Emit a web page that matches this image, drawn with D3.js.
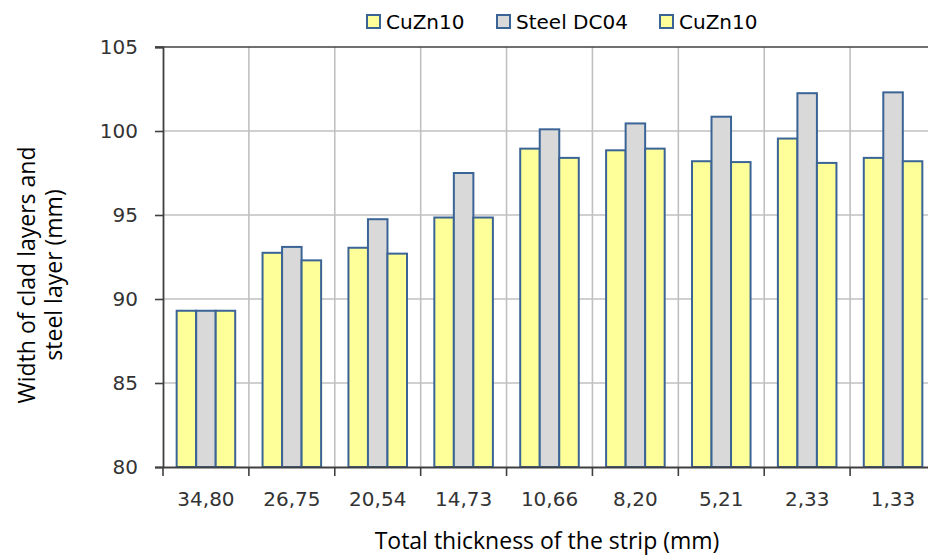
<!DOCTYPE html>
<html><head><meta charset="utf-8">
<script src="https://cdn.jsdelivr.net/npm/d3@7"></script>
<style>body{margin:0;background:#fff}svg{display:block}</style>
</head><body>
<svg id="c" width="928" height="556"></svg>
<script>
const categories = ["34,80","26,75","20,54","14,73","10,66","8,20","5,21","2,33","1,33"];
const seriesNames = ["CuZn10","Steel DC04","CuZn10"];
const cuzn10A = [89.3, 92.75, 93.05, 94.85, 98.95, 98.85, 98.2, 99.55, 98.4];
const steelDC04 = [89.3, 93.1, 94.75, 97.5, 100.1, 100.45, 100.85, 102.25, 102.3];
const cuzn10B = [89.3, 92.3, 92.7, 94.85, 98.4, 98.95, 98.15, 98.1, 98.2];
const yTicks = [80, 85, 90, 95, 100, 105];
const fills = ["#ffff99", "#d9d9d9", "#ffff99"];

(function () {
const series = [cuzn10A, steelDC04, cuzn10B];
const svg = d3.select("#c");
const L = 163, R = 936, T = 47, B = 467;

const x = d3.scaleBand().domain(categories).range([L, R]).paddingInner(0).paddingOuter(0);
const xi = d3.scaleBand().domain(d3.range(3)).range([0, x.bandwidth()]).paddingOuter(0.7).paddingInner(0);
const y = d3.scaleLinear().domain([80, 105]).range([B, T]);

svg.append("g").selectAll("line").data(yTicks.filter(t => t > 80 && t < 105)).join("line")
  .attr("x1", L).attr("x2", 928).attr("y1", d => y(d)).attr("y2", d => y(d))
  .attr("stroke", "#c0c0c0").attr("stroke-width", 1.6);
svg.append("g").selectAll("line").data(categories.slice(1)).join("line")
  .attr("x1", d => x(d)).attr("x2", d => x(d)).attr("y1", T).attr("y2", B)
  .attr("stroke", "#c0c0c0").attr("stroke-width", 1.6);
svg.append("line").attr("x1", L - 8).attr("x2", 928).attr("y1", y(105)).attr("y2", y(105))
  .attr("stroke", "#404040").attr("stroke-width", 1.6);

const g = svg.append("g");
series.forEach((vals, si) => {
  g.append("g").selectAll("rect").data(vals).join("rect")
    .attr("x", (d, i) => x(categories[i]) + xi(si))
    .attr("width", xi.bandwidth())
    .attr("y", d => y(d))
    .attr("height", d => y(80) - y(d))
    .attr("fill", fills[si]).attr("stroke", "#3b6496").attr("stroke-width", 2);
});

const yAxis = svg.append("g").attr("transform", `translate(${L},0)`)
  .call(d3.axisLeft(y).tickValues(yTicks).tickSize(8).tickPadding(17));
yAxis.select(".domain").attr("stroke", "#404040").attr("stroke-width", 1.8);
yAxis.selectAll(".tick line").attr("stroke", "#404040").attr("stroke-width", 1.6);
yAxis.selectAll("text").attr("font-family", "DejaVu Sans").attr("font-size", 20).attr("fill", "#333");

const xAxis = svg.append("g").attr("transform", `translate(0,${B})`)
  .call(d3.axisBottom(x).tickSize(0).tickPadding(25));
xAxis.select(".domain").attr("stroke", "#404040").attr("stroke-width", 1.8);
xAxis.selectAll("text").attr("font-family", "DejaVu Sans").attr("font-size", 20).attr("fill", "#333");
xAxis.append("g").selectAll("line").data(categories).join("line")
  .attr("x1", d => x(d)).attr("x2", d => x(d)).attr("y1", 0).attr("y2", 9)
  .attr("stroke", "#404040").attr("stroke-width", 1.6);

svg.append("text").attr("x", 547).attr("y", 549).attr("text-anchor", "middle")
  .attr("font-family", "Open Sans").attr("font-size", 23).attr("fill", "#000")
  .text("Total thickness of the strip (mm)");
const yt = svg.append("text").attr("transform", "translate(35,275) rotate(-90)")
  .attr("text-anchor", "middle").attr("font-family", "Open Sans").attr("font-size", 23).attr("fill", "#000");
yt.append("tspan").attr("x", 0).attr("dy", 0).text("Width of clad layers and");
yt.append("tspan").attr("x", 0).attr("dy", 27).text("steel layer (mm)");

const legX = [367, 497, 660];
const leg = svg.append("g");
seriesNames.forEach((n, i) => {
  leg.append("rect").attr("x", legX[i]).attr("y", 15).attr("width", 13).attr("height", 13)
    .attr("fill", fills[i]).attr("stroke", "#3b6496").attr("stroke-width", 2);
  leg.append("text").attr("x", legX[i] + 19).attr("y", 29)
    .attr("font-family", "DejaVu Sans").attr("font-size", 20).attr("fill", "#000").text(n);
});
})();
</script>
</body></html>
